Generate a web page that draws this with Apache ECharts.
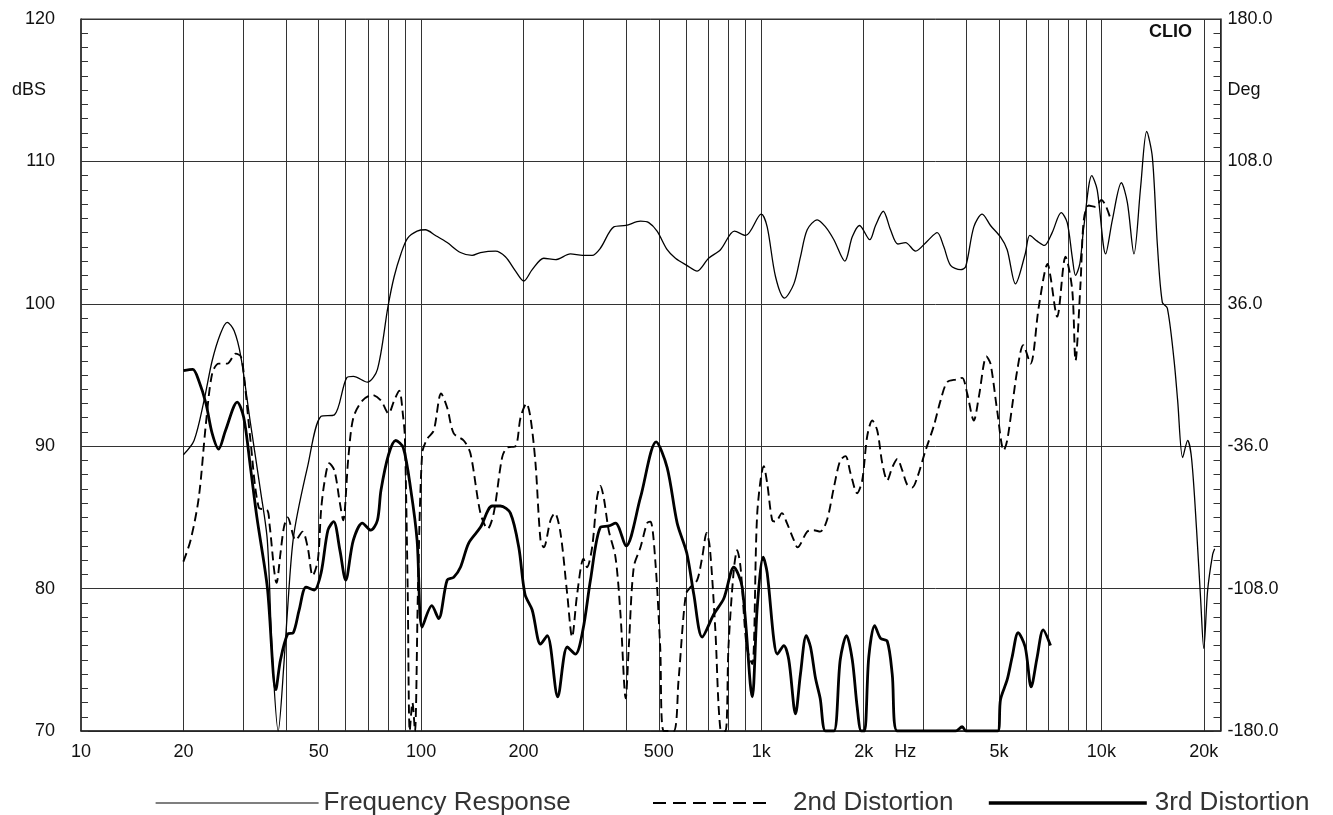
<!DOCTYPE html>
<html>
<head>
<meta charset="utf-8">
<script src="https://cdn.jsdelivr.net/npm/echarts@6/dist/echarts.min.js"></script>
<style>
html,body{margin:0;padding:0;background:#fff;}
#chart{width:1333px;height:815px;}
</style>
</head>
<body>
<div id="chart"></div>
<script>
// ---- Data (frequency in Hz, level in dBS) ----
const frFreq = [20,21.5,23.0,24.3,25.7,26.9,28.2,29.5,31.5,33.7,35.3,36.5,38.0,39.5,40.9,42.3,46.4,50.8,55.6,60.4,63.2,69.5,74.4,79.9,83.3,87.2,91.2,97.3,102.9,110.2,119.3,130.5,141.2,149.4,165.4,176.9,189.5,200.4,212.1,229.4,248.3,274.7,298.8,318.2,336.5,368.6,400,441.5,467,494,528.9,559.4,604,648,700,758.9,834,900,1000,1041,1101.6,1171,1247,1304,1365,1461,1545,1635,1761,1852,1945,2085,2168,2284,2399,2521,2656,2842,3076,3291,3442,3602,3854,3990,4217,4463,4721,5051,5285,5590,5971,6160,6476,6801,7167,7618,7935,8208,8394,8641,8879,9372,9721,10295,10773,11449,11925,12468,13045,13589,14122,14605,15108,15628,16346,16761,17338,17933,18424,19055,19586,20000,20536,21242,21535];
const frDb = [89.4,90.4,93.2,96.0,97.9,98.7,98.1,96.3,91.6,86.9,83.4,75.4,70,74.7,80.1,83.9,88.6,92.1,92.2,94.8,94.9,94.5,95.4,99.8,101.9,103.5,104.6,105.1,105.2,104.8,104.3,103.6,103.4,103.6,103.7,103.3,102.3,101.6,102.4,103.2,103.1,103.5,103.4,103.4,103.9,105.4,105.5,105.8,105.7,105.1,103.8,103.2,102.7,102.3,103.2,103.8,105.1,104.8,106.3,105.4,101.9,100.4,101.4,103.3,105.2,105.9,105.4,104.5,103.0,104.7,105.5,104.5,105.5,106.5,105.2,104.2,104.3,103.7,104.4,105.0,104.0,102.7,102.4,102.6,105.4,106.3,105.5,104.7,103.8,101.4,103.5,104.8,104.4,104.1,105.0,106.4,105.7,103.3,102.0,102.8,105.4,109.0,108.0,103.5,105.9,108.5,107.1,103.5,108.2,112.1,110.3,104.2,100.1,99.7,96.1,93.2,89.2,90.4,89.1,84.1,79.2,75.8,79.9,82.4,82.8];

const d2Freq = [20,21.0,22.2,23.3,24.3,25.4,26.9,28.5,29.5,30.1,31.5,33.3,35.3,35.8,37.6,38.6,39.5,40.5,42.8,44.8,46.4,48.0,49.7,50.8,52.0,53.7,55.6,57.7,59.0,61.1,63.2,67.2,71.9,76.2,80.2,83.3,86.2,88.6,89.6,91.3,92.6,94.3,95.9,97.9,100.7,104.1,108.9,114.5,119.3,124.7,133.4,139.6,149.4,156.9,163.5,173.0,178.9,189.5,196,204,209.7,216.9,224.4,229.4,240.1,247.2,256.9,268.9,277.9,287.5,300.3,307.5,318.2,329.1,336.5,344.2,356,372.8,385.6,399.5,407.9,421.8,441.5,461.9,472.4,488.6,504.5,516.9,552.8,571.4,600,619.3,648,670.5,690.6,706,732.8,758.4,785,801,830.4,849.7,869.2,906.1,941,973.3,1017.7,1041,1077,1101.6,1150.4,1190,1247,1278,1365,1424.5,1490,1560,1635,1707,1769,1830,1914,1981,2049,2120,2193,2269,2347,2427,2511,2598,2686,2779,2875,3041,3214,3366,3522,3768,3898,4032,4217,4365,4594,4721,4939,5164,5285,5466,5655,5891,6189,6548,6953,7087,7416,7844,8208,8394,8682,8879,9181,9612,10000,10295,10595];
const d2Db = [81.9,83.4,86.4,91.6,95.1,95.8,95.8,96.5,96.3,95.1,90.4,85.7,85.5,84.6,80.4,82.5,84.3,85.0,83.4,84.0,82.9,80.9,82.0,85.5,87.5,88.8,88.3,86.0,84.8,89.2,92.0,93.2,93.6,93.2,92.3,93.2,93.9,92.0,90.6,80,70,72,70,80,89.5,90.5,91.1,93.7,92.7,90.9,90.4,89.5,85.3,84.2,85.3,89.2,89.9,90.0,92.0,93.0,92.0,88.8,83.4,82.9,84.8,85.3,83.9,79.6,76.6,79.6,82.1,81.5,82.9,86.4,87.2,86.4,84.1,82.2,78.2,72.3,75.9,81.5,82.9,84.6,84.7,81.8,75.9,70,70,73.6,79.6,80.1,80.6,82.2,83.9,82.9,77.1,70.1,70,75.9,81.3,82.7,81.5,75.9,74.7,85.3,88.6,87.4,84.8,84.7,85.3,84.6,83.4,82.9,84.0,84.1,84.0,84.8,87.1,89.0,89.3,88.1,86.7,87.6,90.7,91.8,91.1,88.8,87.6,88.5,89.1,88.3,87.3,87.1,87.8,89.7,91.4,93.2,94.5,94.7,94.8,93.7,91.8,93.5,96.3,95.8,92.5,89.7,90.4,92.8,95.3,97.1,95.8,99.8,102.8,101.9,99.1,103.3,101.0,96.0,101.4,105.9,106.9,106.8,107.3,106.9,106.1];

const d3Freq = [20,21.3,22.2,23.3,24.3,25.4,26.6,28.8,30.1,31.5,32.9,35.3,37.4,38.6,40.5,42.1,43.8,45.9,48.5,50.8,53.2,55.3,57.7,60,63.2,67.2,71.1,74.4,76.2,80.2,84.2,88.6,93.3,97.3,100.7,107.5,112.6,119.3,124.7,130.5,138.0,149.4,161.7,171.0,183.0,193.7,202,212.1,224.4,234.9,252.2,268.9,284.2,299,314.7,336.5,356.3,372.8,400.5,441.5,490.9,528.9,566,604,633.4,670.5,725.1,776,830.4,878.9,941,973.3,1013.6,1041,1089,1114,1165,1205,1261,1304,1356,1396,1444,1490,1545,1635,1707,1781,1852,1914,1968,2012,2071,2155,2243,2347,2427,2511,3725,3898,4000,4958,5051,5285,5466,5691,5971,6218,6476,6742,7087];
const d3Db = [95.3,95.4,94.6,93.0,90.9,89.8,91.1,93.1,92.0,88.5,85.0,80.1,72.9,75.0,76.8,76.9,78.5,80.1,79.9,81.1,84.1,84.7,82.7,80.6,83.4,84.6,84.1,84.8,86.9,89.4,90.4,89.9,86.9,83.4,77.3,78.8,77.9,80.6,80.8,81.5,83.2,84.3,85.8,85.8,85.3,82.9,79.6,78.5,76.1,76.7,72.4,75.9,75.4,77.1,80.6,84.3,84.4,84.6,83.0,86.4,90.3,88.5,84.6,82.5,79.6,76.6,78.2,79.3,81.5,80.1,72.4,78.7,82.2,81.1,76.4,75.4,76.0,75.0,71.2,74.0,76.7,75.9,73.7,72.3,70,70,75.0,76.7,75.0,71.7,70,70,75.2,77.4,76.5,76.3,74.0,70,70,70.3,70,70,72.2,73.6,75.2,76.9,75.9,73.1,75.2,77.1,76.0];

// ---- Axis ticks / labels ----
const xGridValues = [20,30,40,50,60,70,80,90,100,200,300,400,500,600,700,800,900,1000,2000,3000,4000,5000,6000,7000,8000,9000,10000,20000];
const xLabelValues = [10,20,50,100,200,500,1000,2000,2650,5000,10000,20000];
const xLabelTexts = ['10','20','50','100','200','500','1k','2k','Hz','5k','10k','20k'];
const leftLabelValues = [70,80,90,100,110,115,120];
const rightLabelValues = [-180,-108,-36,36,108,144,180];

const zip = (a, b) => a.map((v, i) => [v, b[i]]);
const FONT = '"Liberation Sans", Arial, sans-serif';
const legendText = {fontFamily: FONT, fontSize: 26, color: '#333'};

const chart = echarts.init(document.getElementById('chart'), null, {renderer: 'canvas'});
chart.setOption({
  animation: false,
  backgroundColor: '#fff',
  title: {
    text: 'CLIO', right: 141, top: 23, padding: 0,
    textStyle: {fontFamily: FONT, fontSize: 18, fontWeight: 'bold', color: '#111'}
  },
  grid: {left: 81, right: 112.5, top: 19, bottom: 84, show: true, borderColor: '#333', borderWidth: 1},
  legend: [
    {data: ['Frequency Response'], left: 155, top: 790, padding: 0, itemWidth: 163, itemHeight: 20,
     itemStyle: {opacity: 0}, lineStyle: {width: 1.2},
     textStyle: legendText},
    {data: ['2nd Distortion'], left: 652, top: 790, padding: 0, itemWidth: 113, itemHeight: 20,
     itemStyle: {opacity: 0}, lineStyle: {type: [13, 7], width: 2},
     textStyle: Object.assign({}, legendText, {padding: [0, 0, 0, 22]})},
    {data: ['3rd Distortion'], left: 987, top: 790, padding: 0, itemWidth: 158, itemHeight: 20,
     itemStyle: {opacity: 0}, lineStyle: {width: 3.6},
     textStyle: Object.assign({}, legendText, {padding: [0, 0, 0, 3]})}
  ],
  xAxis: {
    type: 'log', logBase: 10, min: 10, max: 22400,
    axisLine: {show: true, onZero: false, lineStyle: {color: '#222', width: 1.5}},
    axisTick: {show: false, customValues: xGridValues},
    splitLine: {show: true, lineStyle: {color: '#333', width: 1}},
    axisLabel: {
      customValues: xLabelValues, margin: 12,
      fontFamily: FONT, fontSize: 18, color: '#111',
      formatter: v => { const i = xLabelValues.indexOf(v); return i >= 0 ? xLabelTexts[i] : ''; }
    }
  },
  yAxis: [
    {
      type: 'value', min: 70, max: 120, interval: 10, position: 'left',
      axisLine: {show: true, onZero: false, lineStyle: {color: '#222', width: 1.5}},
      axisTick: {show: true, inside: true, length: 7, lineStyle: {color: '#333'}},
      minorTick: {show: true, splitNumber: 10, length: 7, lineStyle: {color: '#333'}},
      splitLine: {show: true, lineStyle: {color: '#333', width: 1}},
      axisLabel: {
        customValues: leftLabelValues, margin: 26,
        fontFamily: FONT, fontSize: 18, color: '#111',
        formatter: v => v === 115 ? '{u|dBS}' : String(v),
        rich: {u: {fontFamily: FONT, fontSize: 18, color: '#111', padding: [0, 9, 0, 0]}}
      }
    },
    {
      type: 'value', min: -180, max: 180, interval: 72, position: 'right',
      axisLine: {show: true, onZero: false, lineStyle: {color: '#222', width: 1.5}},
      axisTick: {show: true, inside: true, length: 7, lineStyle: {color: '#333'}},
      minorTick: {show: true, splitNumber: 10, length: 7, lineStyle: {color: '#333'}},
      splitLine: {show: false},
      axisLabel: {
        customValues: rightLabelValues, margin: 7,
        fontFamily: FONT, fontSize: 18, color: '#111',
        formatter: v => v === 144 ? 'Deg' : v.toFixed(1)
      }
    }
  ],
  series: [
    {name: 'Frequency Response', type: 'line', yAxisIndex: 0, data: zip(frFreq, frDb),
     symbol: 'none', showSymbol: false, smooth: 0.3, clip: true,
     lineStyle: {color: '#000', width: 1.3}, itemStyle: {color: '#000'}, z: 3},
    {name: '2nd Distortion', type: 'line', yAxisIndex: 0, data: zip(d2Freq, d2Db),
     symbol: 'none', showSymbol: false, smooth: 0.3, clip: true,
     lineStyle: {color: '#000', width: 1.9, type: [9, 5]}, itemStyle: {color: '#000'}, z: 4},
    {name: '3rd Distortion', type: 'line', yAxisIndex: 0, data: zip(d3Freq, d3Db),
     symbol: 'none', showSymbol: false, smooth: 0.3, clip: true,
     lineStyle: {color: '#000', width: 2.8}, itemStyle: {color: '#000'}, z: 5}
  ]
});
</script>
</body>
</html>
